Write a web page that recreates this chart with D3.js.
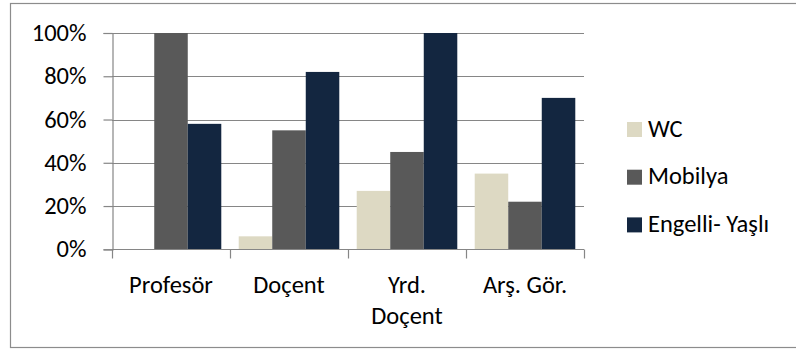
<!DOCTYPE html>
<html>
<head>
<meta charset="utf-8">
<script src="https://cdn.jsdelivr.net/npm/d3@7"></script>
<style>
  body { margin: 0; background: #fff; }
  text { font-family: Carlito, "Open Sans", "Noto Sans", sans-serif; fill: #000; }
</style>
</head>
<body>
<div id="chart"></div>
<script>
const categories = ['Profesör', 'Doçent', 'Yrd. Doçent', 'Arş. Gör.'];
const seriesNames = ['WC', 'Mobilya', 'Engelli- Yaşlı'];
const wc = [0, 6, 27, 35];
const mobilya = [100, 55, 45, 22];
const engelli = [58, 82, 100, 70];
const yTicks = [0, 20, 40, 60, 80, 100];

const colors = ['#DDD9C3', '#595959', '#132640'];
const seriesValues = [wc, mobilya, engelli];

const width = 796, height = 349;
const margin = { left: 112, top: 33, right: 212, bottom: 100 };
const fontSize = '24.5px';

const svg = d3.select('#chart')
  .append('svg')
  .attr('width', width)
  .attr('height', height);

// outer chart frame
svg.append('rect')
  .attr('x', 10.5).attr('y', 3.5)
  .attr('width', 800).attr('height', 344)
  .attr('fill', 'none')
  .attr('stroke', '#8c8c8c')
  .attr('stroke-width', 1.2);

const x = d3.scaleBand()
  .domain(categories)
  .range([margin.left, width - margin.right]);

const x1 = d3.scaleBand()
  .domain(seriesNames)
  .range([0, x.bandwidth()])
  .paddingOuter(0.26);

const y = d3.scaleLinear()
  .domain([0, 100])
  .range([249.3, margin.top]);

// gridlines
svg.append('g')
  .selectAll('line')
  .data(yTicks.filter(d => d > 0))
  .enter()
  .append('line')
  .attr('x1', margin.left)
  .attr('x2', width - margin.right)
  .attr('y1', d => Math.round(y(d)) + 0.5)
  .attr('y2', d => Math.round(y(d)) + 0.5)
  .attr('stroke', '#868686')
  .attr('stroke-width', 1.2);

// bars
const groups = svg.append('g')
  .selectAll('g')
  .data(categories)
  .enter()
  .append('g')
  .attr('transform', d => `translate(${x(d)},0)`);

groups.selectAll('rect')
  .data((c, i) => seriesNames.map((s, j) => ({ s, j, v: seriesValues[j][i] })))
  .enter()
  .append('rect')
  .attr('x', d => x1(d.s))
  .attr('width', x1.bandwidth())
  .attr('y', d => y(d.v))
  .attr('height', d => y(0) - y(d.v))
  .attr('fill', d => colors[d.j]);

// y axis
const yAxis = svg.append('g')
  .attr('transform', `translate(${margin.left + 0.5},0)`)
  .call(d3.axisLeft(y).tickValues(yTicks).tickFormat(d => d + '%').tickSize(9).tickPadding(17));
yAxis.attr('font-family', null).attr('font-size', null);
yAxis.select('.domain').attr('stroke', '#868686').attr('stroke-width', 1.2);
yAxis.selectAll('.tick line').attr('stroke', '#868686').attr('stroke-width', 1.2);
yAxis.selectAll('.tick text').style('font-size', fontSize).attr('dy', '0.31em');

// x axis
const xAxis = svg.append('g')
  .attr('transform', `translate(0,${Math.round(y(0)) + 0.5})`);
xAxis.append('line')
  .attr('x1', margin.left).attr('x2', width - margin.right)
  .attr('stroke', '#868686').attr('stroke-width', 1.2);
xAxis.selectAll('line.tk')
  .data(d3.range(categories.length + 1))
  .enter()
  .append('line')
  .attr('class', 'tk')
  .attr('x1', i => margin.left + i * x.step() + 0.5)
  .attr('x2', i => margin.left + i * x.step() + 0.5)
  .attr('y1', 0).attr('y2', 9)
  .attr('stroke', '#868686').attr('stroke-width', 1.2);

const labels = svg.append('g')
  .selectAll('text')
  .data(categories)
  .enter()
  .append('text')
  .attr('text-anchor', 'middle')
  .style('font-size', fontSize)
  .attr('x', d => x(d) + x.bandwidth() / 2)
  .attr('y', 293);
labels.each(function (d) {
  const t = d3.select(this);
  const parts = d === 'Yrd. Doçent' ? ['Yrd.', 'Doçent'] : [d];
  parts.forEach((p, i) => {
    t.append('tspan')
      .attr('x', x(d) + x.bandwidth() / 2)
      .attr('dy', i === 0 ? 0 : 31)
      .text(p);
  });
});

// legend
const legend = svg.append('g')
  .selectAll('g')
  .data(seriesNames)
  .enter()
  .append('g')
  .attr('transform', (d, i) => `translate(627,${122 + i * 47.7})`);
legend.append('rect')
  .attr('width', 15).attr('height', 15)
  .attr('fill', (d, i) => colors[i]);
legend.append('text')
  .attr('x', 21).attr('y', 14.5)
  .style('font-size', fontSize)
  .text(d => d);
</script>
</body>
</html>
